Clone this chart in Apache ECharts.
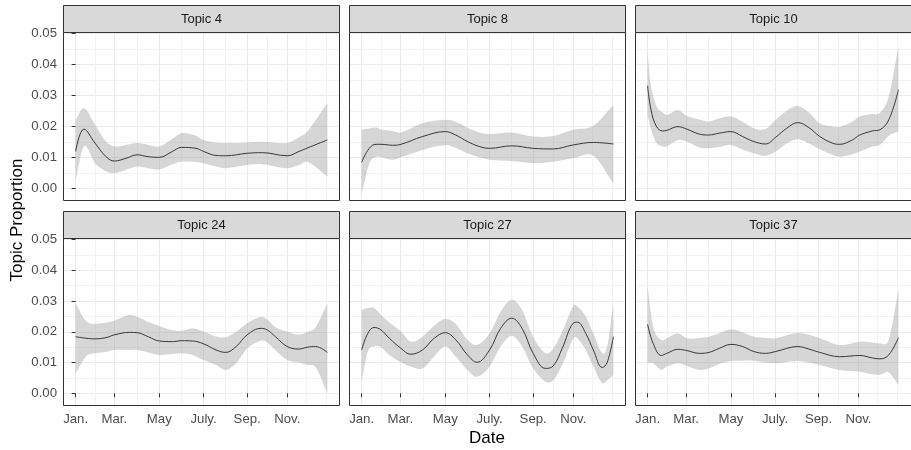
<!DOCTYPE html>
<html><head><meta charset="utf-8">
<script src="https://cdn.jsdelivr.net/npm/echarts@6/dist/echarts.min.js"></script>
<style>html,body{margin:0;padding:0;background:#fff}#c{width:911px;height:450px}</style>
</head><body><div id="c"></div>
<script>
// ---------- data ----------
const topicNames = ['Topic 4', 'Topic 8', 'Topic 10', 'Topic 24', 'Topic 27', 'Topic 37'];
const xTickValues = [0, 56, 121, 185, 248, 306];
const xTickLabels = ['Jan.', 'Mar.', 'May', 'July.', 'Sep.', 'Nov.'];
const yTickValues = [0, 0.01, 0.02, 0.03, 0.04, 0.05];
const yTickLabels = ['0.00', '0.01', '0.02', '0.03', '0.04', '0.05'];

const t4Days  = [0, 12, 28, 44, 56, 73, 89, 105, 121, 140, 153, 174, 185, 203, 217, 248, 270, 306, 323, 335, 364];
const t4Mean  = [0.0119, 0.0191, 0.0146, 0.0102, 0.0088, 0.0097, 0.0108, 0.0102, 0.0100, 0.0119, 0.0132, 0.0129, 0.0119, 0.0106, 0.0105, 0.0113, 0.0115, 0.0105, 0.0119, 0.0130, 0.0156];
const t4Upper = [0.0221, 0.0259, 0.0205, 0.0150, 0.0135, 0.0140, 0.0146, 0.0140, 0.0135, 0.0160, 0.0178, 0.0170, 0.0156, 0.0148, 0.0146, 0.0148, 0.0150, 0.0146, 0.0165, 0.0183, 0.0275];
const t4Lower = [0.0025, 0.0135, 0.0081, 0.0055, 0.0049, 0.0060, 0.0070, 0.0065, 0.0061, 0.0078, 0.0086, 0.0085, 0.0081, 0.0070, 0.0065, 0.0075, 0.0078, 0.0065, 0.0075, 0.0086, 0.0038];

const t8Days  = [0, 11, 21, 28, 45, 57, 88, 121, 136, 153, 170, 185, 217, 248, 277, 306, 335, 364];
const t8Mean  = [0.0084, 0.0129, 0.0142, 0.0142, 0.0139, 0.0142, 0.0167, 0.0183, 0.0172, 0.0151, 0.0135, 0.0129, 0.0137, 0.0129, 0.0127, 0.0140, 0.0148, 0.0143];
const t8Upper = [0.0189, 0.0193, 0.0196, 0.0190, 0.0185, 0.0180, 0.0210, 0.0221, 0.0215, 0.0196, 0.0180, 0.0175, 0.0180, 0.0167, 0.0169, 0.0189, 0.0202, 0.0270];
const t8Lower = [-0.0020, 0.0080, 0.0102, 0.0100, 0.0092, 0.0100, 0.0124, 0.0140, 0.0130, 0.0113, 0.0100, 0.0092, 0.0088, 0.0081, 0.0086, 0.0097, 0.0105, 0.0016];

const t10Days  = [0, 5, 13, 22, 28, 44, 57, 75, 89, 104, 121, 138, 154, 171, 186, 202, 218, 234, 250, 268, 279, 297, 308, 326, 337, 350, 364];
const t10Mean  = [0.0331, 0.0253, 0.0199, 0.0185, 0.0187, 0.0199, 0.0191, 0.0175, 0.0172, 0.0178, 0.0183, 0.0167, 0.0151, 0.0143, 0.0165, 0.0194, 0.0212, 0.0196, 0.0167, 0.0146, 0.0142, 0.0156, 0.0172, 0.0185, 0.0189, 0.0221, 0.0318];
const t10Upper = [0.0437, 0.0329, 0.0264, 0.0245, 0.0237, 0.0253, 0.0234, 0.0222, 0.0216, 0.0225, 0.0232, 0.0215, 0.0194, 0.0191, 0.0221, 0.0250, 0.0266, 0.0245, 0.0210, 0.0200, 0.0199, 0.0215, 0.0232, 0.0240, 0.0243, 0.0296, 0.0458];
const t10Lower = [0.0237, 0.0190, 0.0146, 0.0135, 0.0135, 0.0156, 0.0150, 0.0132, 0.0129, 0.0133, 0.0140, 0.0125, 0.0113, 0.0105, 0.0119, 0.0145, 0.0158, 0.0145, 0.0126, 0.0108, 0.0102, 0.0110, 0.0119, 0.0135, 0.0140, 0.0170, 0.0183];

const t24Days  = [0, 15, 28, 44, 56, 78, 89, 105, 121, 140, 153, 169, 185, 203, 217, 232, 248, 268, 277, 289, 306, 323, 335, 347, 364];
const t24Mean  = [0.0184, 0.0179, 0.0177, 0.0181, 0.0190, 0.0198, 0.0197, 0.0184, 0.0170, 0.0168, 0.0171, 0.0170, 0.0161, 0.0141, 0.0133, 0.0152, 0.0190, 0.0211, 0.0206, 0.0184, 0.0152, 0.0144, 0.0150, 0.0152, 0.0133];
const t24Upper = [0.0293, 0.0235, 0.0226, 0.0230, 0.0236, 0.0255, 0.0249, 0.0232, 0.0219, 0.0205, 0.0203, 0.0211, 0.0201, 0.0185, 0.0182, 0.0200, 0.0228, 0.0249, 0.0240, 0.0215, 0.0201, 0.0190, 0.0200, 0.0215, 0.0293];
const t24Lower = [0.0065, 0.0120, 0.0130, 0.0135, 0.0141, 0.0141, 0.0141, 0.0133, 0.0125, 0.0128, 0.0130, 0.0125, 0.0108, 0.0092, 0.0076, 0.0098, 0.0146, 0.0171, 0.0165, 0.0140, 0.0108, 0.0100, 0.0092, 0.0085, 0.0000];

const t27Days  = [0, 9, 18, 28, 40, 57, 71, 88, 105, 121, 136, 153, 167, 185, 201, 217, 232, 248, 266, 277, 290, 306, 312, 324, 335, 348, 355, 364];
const t27Mean  = [0.0141, 0.0195, 0.0214, 0.0206, 0.0179, 0.0146, 0.0127, 0.0141, 0.0179, 0.0197, 0.0174, 0.0125, 0.0101, 0.0141, 0.0211, 0.0244, 0.0211, 0.0130, 0.0081, 0.0089, 0.0146, 0.0228, 0.0231, 0.0195, 0.0141, 0.0084, 0.0100, 0.0184];
const t27Upper = [0.0271, 0.0277, 0.0277, 0.0255, 0.0230, 0.0201, 0.0168, 0.0184, 0.0220, 0.0242, 0.0225, 0.0174, 0.0157, 0.0195, 0.0265, 0.0304, 0.0271, 0.0184, 0.0130, 0.0146, 0.0200, 0.0284, 0.0282, 0.0250, 0.0195, 0.0130, 0.0152, 0.0293];
const t27Lower = [0.0038, 0.0136, 0.0152, 0.0150, 0.0125, 0.0101, 0.0087, 0.0081, 0.0120, 0.0152, 0.0119, 0.0076, 0.0054, 0.0087, 0.0152, 0.0187, 0.0152, 0.0081, 0.0038, 0.0043, 0.0092, 0.0179, 0.0178, 0.0141, 0.0087, 0.0033, 0.0043, 0.0060];

const t37Days  = [0, 8, 20, 28, 44, 57, 75, 89, 104, 121, 138, 154, 171, 186, 218, 234, 250, 279, 308, 326, 337, 350, 364];
const t37Mean  = [0.0225, 0.0163, 0.0123, 0.0130, 0.0143, 0.0139, 0.0130, 0.0133, 0.0146, 0.0159, 0.0152, 0.0136, 0.0130, 0.0136, 0.0152, 0.0144, 0.0133, 0.0119, 0.0123, 0.0115, 0.0112, 0.0125, 0.0181];
const t37Upper = [0.0347, 0.0217, 0.0174, 0.0179, 0.0195, 0.0179, 0.0180, 0.0184, 0.0195, 0.0208, 0.0198, 0.0184, 0.0180, 0.0179, 0.0197, 0.0190, 0.0179, 0.0157, 0.0168, 0.0165, 0.0163, 0.0175, 0.0336];
const t37Lower = [0.0098, 0.0098, 0.0076, 0.0087, 0.0098, 0.0090, 0.0076, 0.0081, 0.0095, 0.0105, 0.0106, 0.0106, 0.0100, 0.0098, 0.0105, 0.0100, 0.0092, 0.0076, 0.0070, 0.0062, 0.0060, 0.0068, 0.0027];

// ---------- layout ----------
const topics = [
  [t4Days, t4Mean, t4Upper, t4Lower],
  [t8Days, t8Mean, t8Upper, t8Lower],
  [t10Days, t10Mean, t10Upper, t10Lower],
  [t24Days, t24Mean, t24Upper, t24Lower],
  [t27Days, t27Mean, t27Upper, t27Lower],
  [t37Days, t37Mean, t37Upper, t37Lower]
];
const colLeft = [63, 349, 635];
const panelW = 277;
const rowTop = [32, 238];
const panelH = [169, 168];
const stripH = 27;
const xMin = -18.25, xMax = 382.25;
const yMin = -0.0041, yMax = 0.05045;
const FONT = '"Liberation Sans", Arial, Helvetica, sans-serif';

// minor grid positions (ggplot-style midpoints)
const xMinor = [];
for (let k = 0; k < xTickValues.length - 1; k++) xMinor.push((xTickValues[k] + xTickValues[k + 1]) / 2);
const ext = xTickValues[xTickValues.length - 1] + (xTickValues[1] - xTickValues[0]);
xMinor.push((xTickValues[xTickValues.length - 1] + ext) / 2, ext);
const yMinor = [];
for (let k = 0; k < yTickValues.length - 1; k++) yMinor.push((yTickValues[k] + yTickValues[k + 1]) / 2);

// tangents for a smooth cubic Hermite curve through pixel points
function slopes(pts) {
  const n = pts.length, m = [];
  for (let k = 0; k < n; k++) {
    const a = pts[Math.max(0, k - 1)], b = pts[Math.min(n - 1, k + 1)];
    m.push((b[1] - a[1]) / (b[0] - a[0]));
  }
  return m;
}
function bandPath(up, lo) {
  const mu = slopes(up), ml = slopes(lo), n = up.length;
  let d = 'M' + up[0][0] + ' ' + up[0][1];
  for (let k = 0; k < n - 1; k++) {
    const p = up[k], q = up[k + 1], h = (q[0] - p[0]) / 3;
    d += ' C' + (p[0] + h) + ' ' + (p[1] + mu[k] * h) + ' ' + (q[0] - h) + ' ' + (q[1] - mu[k + 1] * h) + ' ' + q[0] + ' ' + q[1];
  }
  d += ' L' + lo[n - 1][0] + ' ' + lo[n - 1][1];
  for (let k = n - 1; k > 0; k--) {
    const q = lo[k], p = lo[k - 1], h = (q[0] - p[0]) / 3;
    d += ' C' + (q[0] - h) + ' ' + (q[1] - ml[k] * h) + ' ' + (p[0] + h) + ' ' + (p[1] + ml[k - 1] * h) + ' ' + p[0] + ' ' + p[1];
  }
  return d + ' Z';
}

const grids = [], xAxes = [], yAxes = [], series = [], graphics = [];
topics.forEach((t, i) => {
  const r = Math.floor(i / 3), c = i % 3;
  const [days, mean, upper, lower] = t;
  grids.push({ left: colLeft[c], top: rowTop[r], width: panelW, height: panelH[r], containLabel: false });
  xAxes.push({
    gridIndex: i, type: 'value', min: xMin, max: xMax,
    axisLine: { show: false },
    axisTick: { show: r === 1, customValues: xTickValues, length: 4, lineStyle: { color: '#333333', width: 1 } },
    axisLabel: { show: r === 1, customValues: xTickValues, margin: 7, color: '#4D4D4D', fontSize: 13.2, fontFamily: FONT,
      formatter: v => { const k = xTickValues.findIndex(x => Math.abs(x - v) < 1e-6); return k >= 0 ? xTickLabels[k] : ''; } },
    splitLine: { show: true, lineStyle: { color: '#EBEBEB', width: 1 } }
  });
  xAxes.push({
    gridIndex: i, type: 'value', min: xMin, max: xMax,
    axisLine: { show: false },
    axisTick: { show: false, customValues: xMinor },
    axisLabel: { show: false, customValues: xMinor },
    splitLine: { show: true, lineStyle: { color: '#F3F3F3', width: 1 } }
  });
  yAxes.push({
    gridIndex: i, type: 'value', min: yMin, max: yMax,
    axisLine: { show: false },
    axisTick: { show: c === 0, customValues: yTickValues, length: 4, lineStyle: { color: '#333333', width: 1 } },
    axisLabel: { show: c === 0, customValues: yTickValues, margin: 6, color: '#4D4D4D', fontSize: 13.2, fontFamily: FONT,
      formatter: v => { const k = yTickValues.findIndex(y => Math.abs(y - v) < 1e-9); return k >= 0 ? yTickLabels[k] : ''; } },
    splitLine: { show: true, lineStyle: { color: '#EBEBEB', width: 1 } }
  });
  yAxes.push({
    gridIndex: i, type: 'value', min: yMin, max: yMax,
    axisLine: { show: false },
    axisTick: { show: false, customValues: yMinor },
    axisLabel: { show: false, customValues: yMinor },
    splitLine: { show: true, lineStyle: { color: '#F3F3F3', width: 1 } }
  });
  const xi = 2 * i, yi = 2 * i;
  // confidence band (drawn through the axes' scales)
  series.push({
    type: 'custom', xAxisIndex: xi, yAxisIndex: yi, silent: true, z: 2,
    data: [[days[0], lower[0]]],
    renderItem: function (params, api) {
      const up = days.map((d, k) => api.coord([d, upper[k]]));
      const lo = days.map((d, k) => api.coord([d, lower[k]]));
      return { type: 'path', shape: { pathData: bandPath(up, lo) }, style: { fill: 'rgba(153,153,153,0.4)', stroke: 'none' } };
    }
  });
  series.push({
    type: 'line', xAxisIndex: xi, yAxisIndex: yi,
    data: days.map((d, k) => [d, mean[k]]), symbol: 'none', smooth: 0.4,
    lineStyle: { color: '#383838', width: 1 }, silent: true, z: 3
  });
  graphics.push({ type: 'rect', z: 100, silent: true,
    shape: { x: colLeft[c] + 0.5, y: rowTop[r] + 0.5, width: panelW - 1, height: panelH[r] - 1 },
    style: { fill: 'none', stroke: '#333333', lineWidth: 1 } });
  graphics.push({ type: 'rect', z: 100, silent: true,
    shape: { x: colLeft[c] + 0.5, y: rowTop[r] - stripH + 0.5, width: panelW - 1, height: stripH },
    style: { fill: '#D9D9D9', stroke: '#333333', lineWidth: 1 } });
  graphics.push({ type: 'text', z: 101, silent: true,
    x: colLeft[c] + panelW / 2, y: rowTop[r] - stripH / 2 + 0.5,
    style: { text: topicNames[i], fill: '#1A1A1A', font: '13px ' + FONT, align: 'center', verticalAlign: 'middle' } });
});
graphics.push({ type: 'text', silent: true, x: 17, y: 220, rotation: Math.PI / 2,
  style: { text: 'Topic Proportion', fill: '#000000', font: '17px ' + FONT, align: 'center', verticalAlign: 'middle' } });
graphics.push({ type: 'text', silent: true, x: 487, y: 438,
  style: { text: 'Date', fill: '#000000', font: '17px ' + FONT, align: 'center', verticalAlign: 'middle' } });

const chart = echarts.init(document.getElementById('c'), null, { renderer: 'canvas' });
chart.setOption({
  animation: false,
  backgroundColor: '#FFFFFF',
  grid: grids, xAxis: xAxes, yAxis: yAxes, series: series, graphic: graphics
});
</script>
</body></html>
